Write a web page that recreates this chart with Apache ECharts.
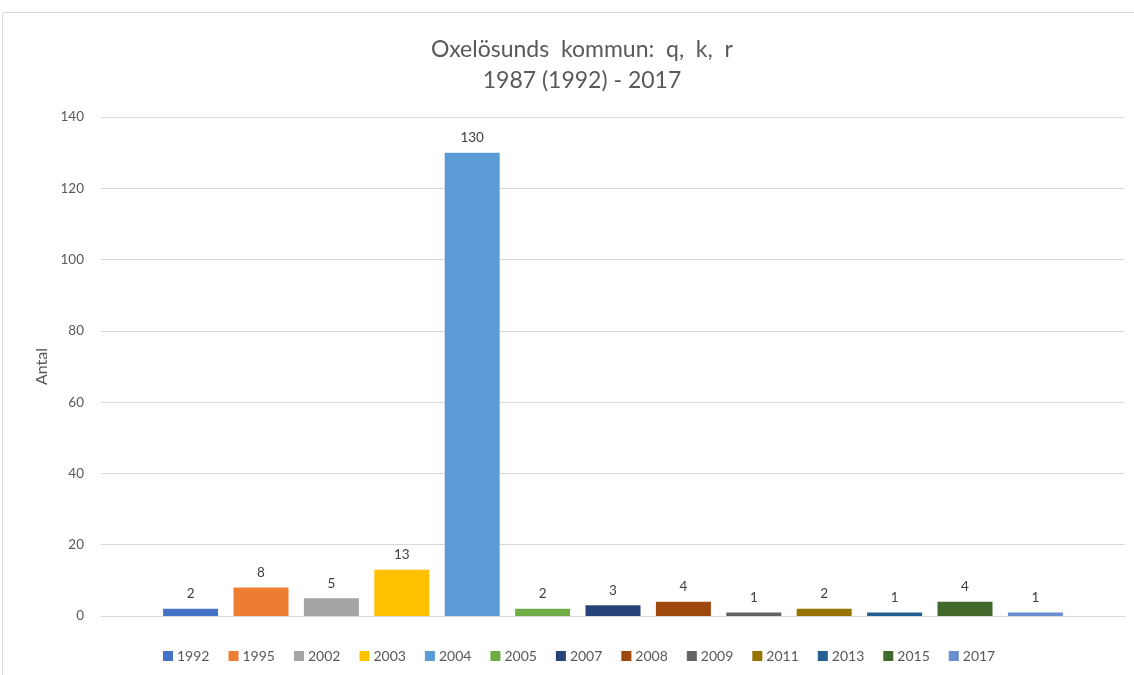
<!DOCTYPE html>
<html>
<head>
<meta charset="utf-8">
<script src="https://cdn.jsdelivr.net/npm/echarts@6/dist/echarts.min.js"></script>
<style>html,body{margin:0;padding:0;background:#fff;}#c{width:1134px;height:675px;}</style>
</head>
<body>
<div id="c"></div>
<script>
const years = ['1992','1995','2002','2003','2004','2005','2007','2008','2009','2011','2013','2015','2017'];
const values = [2, 8, 5, 13, 130, 2, 3, 4, 1, 2, 1, 4, 1];
const colors = ['#4472C4','#ED7D31','#A5A5A5','#FFC000','#5B9BD5','#70AD47','#264478','#9E480E','#636363','#997300','#255E91','#43682B','#698ED0'];
const yTicks = [0, 20, 40, 60, 80, 100, 120, 140];
const titleText = 'Oxelösunds  kommun:  q,  k,  r\n1987 (1992) - 2017';
const yName = 'Antal';

const font = 'Lato, "Open Sans", sans-serif';
const chart = echarts.init(document.getElementById('c'));
chart.setOption({
  animation: false,
  color: colors,
  graphic: [{
    type: 'rect', shape: {x: 2.5, y: 12.5, width: 1140, height: 700},
    style: {fill: 'none', stroke: '#D9D9D9', lineWidth: 1}, silent: true
  }],
  title: {
    text: titleText, left: 577, textAlign: 'center', top: 29,
    textStyle: {fontFamily: font, fontSize: 23, fontWeight: 'normal', color: '#595959', lineHeight: 31}
  },
  legend: {
    bottom: 7, left: 158, itemWidth: 10, itemHeight: 10, itemGap: 19,
    icon: 'rect',
    textStyle: {fontFamily: font, fontSize: 14, color: '#595959', padding: [0,0,0,-1]},
    data: years
  },
  grid: {left: 101, right: 9, top: 117, bottom: 59},
  xAxis: {
    type: 'category', data: [''],
    axisLine: {lineStyle: {color: '#D9D9D9'}}, axisTick: {show: false}, axisLabel: {show: false}
  },
  yAxis: {
    type: 'value', min: yTicks[0], max: yTicks[yTicks.length-1], interval: 20,
    name: yName, nameLocation: 'middle', nameGap: 50,
    nameTextStyle: {fontFamily: font, fontSize: 16, color: '#595959'},
    axisLine: {show: false}, axisTick: {show: false},
    axisLabel: {fontFamily: font, fontSize: 13.5, color: '#595959', margin: 17},
    splitLine: {lineStyle: {color: '#D9D9D9'}}
  },
  series: years.map((y, i) => ({
    name: y, type: 'bar', data: [values[i]],
    barWidth: 55, barGap: '28%',
    itemStyle: {color: colors[i]},
    label: {show: true, position: 'top', distance: 8, fontFamily: font, fontSize: 13.5, color: '#404040'}
  }))
});
</script>
</body>
</html>
